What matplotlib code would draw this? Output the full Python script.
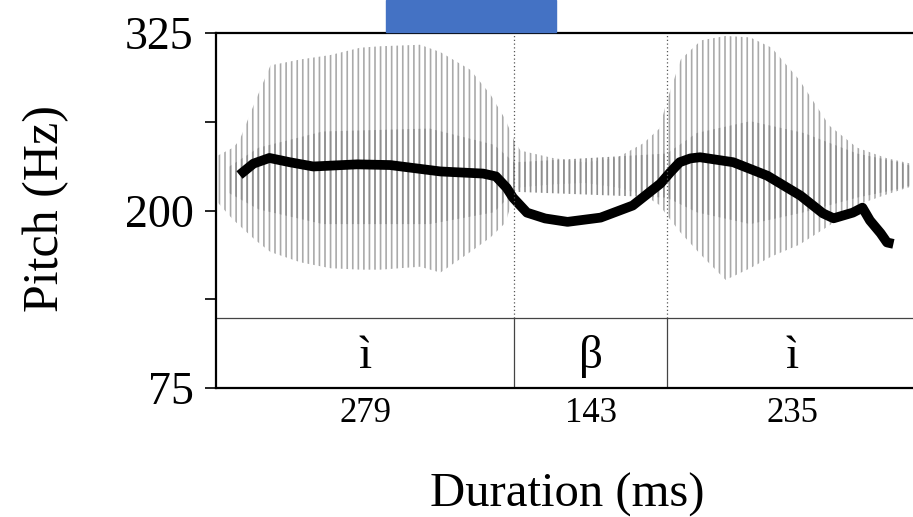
import matplotlib
matplotlib.use("Agg")
import matplotlib.pyplot as plt
from matplotlib.patches import Rectangle

plt.rcParams['font.family'] = ['Liberation Serif', 'DejaVu Serif']
plt.rcParams['hatch.linewidth'] = 1.2

# segments of the utterance (ms)
seg_labels = ['ì', 'β', 'ì']
seg_durations = [279, 143, 235]

# F0 contour
pitch_ms = [22, 35, 50, 69, 91, 132, 163, 210, 250, 262, 272, 278, 291, 308,
            329, 360, 390, 416, 425, 434, 444, 453, 484, 516, 547, 568, 578,
            596, 605, 612, 622, 628, 634]
pitch_hz = [225, 233, 237, 234, 231, 232.5, 232, 227.5, 226, 224, 216, 209,
            198.5, 194.4, 192, 195, 203.5, 219, 226.8, 234, 236.7, 237.5, 234,
            224.5, 210.5, 198, 194.5, 198.5, 202, 193, 184, 177.5, 176.5]

# waveform amplitude envelope
wave_ms = [0, 16, 22, 37, 51, 79, 107, 135, 154, 191, 210, 238, 257, 271,
           279, 285, 315, 345, 375, 400, 415, 422, 435, 454, 477, 500, 520,
           546, 574, 600, 627, 657]
wave_up = [0.16, 0.22, 0.27, 0.54, 0.78, 0.82, 0.85, 0.90, 0.91, 0.92, 0.87,
           0.75, 0.58, 0.41, 0.27, 0.20, 0.15, 0.12, 0.15, 0.25, 0.35, 0.54,
           0.82, 0.95, 0.98, 0.97, 0.90, 0.68, 0.37, 0.22, 0.15, 0.10]
wave_lo = [-0.14, -0.27, -0.31, -0.41, -0.49, -0.56, -0.60, -0.61, -0.61,
           -0.59, -0.63, -0.49, -0.39, -0.29, -0.10, -0.05, -0.03, -0.02,
           -0.05, -0.10, -0.17, -0.24, -0.36, -0.51, -0.68, -0.60, -0.52,
           -0.44, -0.31, -0.17, -0.10, -0.03]

# denser core of the waveform
core_ms = [10, 40, 100, 200, 260, 279, 422, 450, 500, 550, 600, 640, 657]
core_up = [0.08, 0.22, 0.33, 0.35, 0.24, 0.12, 0.18, 0.32, 0.40, 0.32, 0.18, 0.12, 0.08]
core_lo = [-0.08, -0.20, -0.30, -0.30, -0.22, -0.08, -0.12, -0.22, -0.30, -0.22, -0.12, -0.06, -0.02]

total = sum(seg_durations)
bounds = [0]
for d in seg_durations:
    bounds.append(bounds[-1] + d)

W, H = 913, 517
fig = plt.figure(figsize=(W / 100, H / 100), dpi=100)
ax = fig.add_axes([216 / W, 129 / H, 702 / W, 355 / H])
wav = ax.twinx()

# waveform behind the pitch track
wav.fill_between(wave_ms, wave_lo, wave_up, facecolor='none',
                 edgecolor='#aaaaaa', hatch='|||', linewidth=0)
wav.fill_between(core_ms, core_lo, core_up, facecolor='none',
                 edgecolor='#8e8e8e', hatch='|||', linewidth=0)
wav.set_ylim(-1.415, 1.0)
wav.axis('off')
ax.set_zorder(wav.get_zorder() + 1)
ax.patch.set_visible(False)

ax.plot(pitch_ms, pitch_hz, color='black', lw=7, solid_joinstyle='round',
        solid_capstyle='butt')

ax.set_xlim(0, total)
ax.set_ylim(75, 325)

# text tier
tier_frac = 70 / 355
tier_hz = 75 + tier_frac * 250
ax.axhline(tier_hz, color='#444444', lw=0.9)
for b in bounds[1:-1]:
    ax.axvline(b, ymin=tier_frac, ymax=1, color='#555555', lw=0.9, ls=(0, (1, 2)))
    ax.axvline(b, ymin=0, ymax=tier_frac, color='#444444', lw=0.9)
for lab, d, a, b in zip(seg_labels, seg_durations, bounds[:-1], bounds[1:]):
    mid = (a + b) / 2
    ax.text(mid, 0.056, lab, transform=ax.get_xaxis_transform(),
            ha='center', va='baseline', fontsize=34)
    ax.text(mid, -0.073, str(d), transform=ax.get_xaxis_transform(),
            ha='center', va='center', fontsize=25)

ax.set_yticks([75, 137.5, 200, 262.5, 325])
ax.set_yticklabels(['75', '', '200', '', '325'])
ax.set_xticks([])
ax.tick_params(axis='y', direction='out', length=8, width=1.2, pad=8, labelsize=33)
for s in ['left', 'top', 'bottom']:
    ax.spines[s].set_linewidth(1.6)
ax.spines['right'].set_visible(False)

fig.text(46 / W, 1 - 208 / H, 'Pitch (Hz)', rotation=90, ha='center',
         va='center', fontsize=36)
fig.text(567 / W, 1 - 495 / H, 'Duration (ms)', ha='center', va='center',
         fontsize=35)

fig.patches.append(Rectangle((386 / W, 1 - 32 / H), 170 / W, 32 / H,
                             transform=fig.transFigure, color='#4472C4'))

fig.savefig('out.png', dpi=100)
